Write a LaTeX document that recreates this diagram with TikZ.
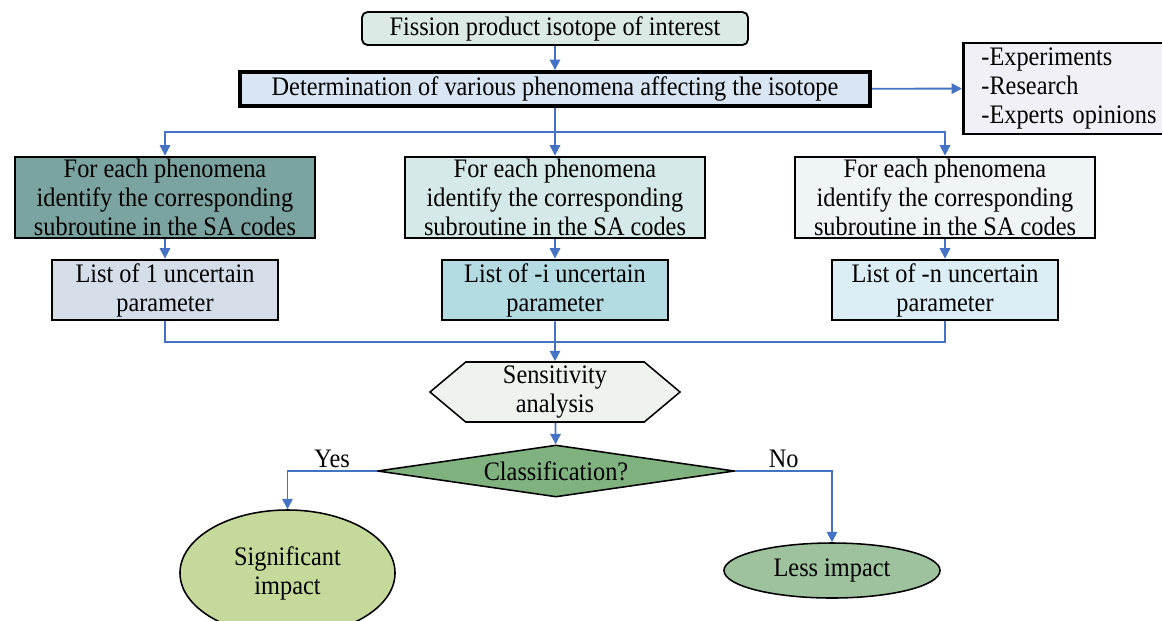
\documentclass[tikz,border=0pt]{standalone}
\usepackage{fontspec}
\setmainfont[FakeStretch=0.91]{Liberation Serif}
\usetikzlibrary{shapes.geometric,shapes.symbols,arrows.meta}
\definecolor{flowblue}{HTML}{4472C4}
\definecolor{topfill}{HTML}{DCEAE6}
\definecolor{detfill}{HTML}{DAE5F3}
\definecolor{expfill}{HTML}{F1F0F7}
\definecolor{phafill}{HTML}{7BA39F}
\definecolor{phbfill}{HTML}{D5EAE8}
\definecolor{phcfill}{HTML}{EFF5F6}
\definecolor{lsafill}{HTML}{D5DDE9}
\definecolor{lsbfill}{HTML}{B4DAE2}
\definecolor{lscfill}{HTML}{DCEEF5}
\definecolor{hexfill}{HTML}{EEF3EE}
\definecolor{diafill}{HTML}{7FB27E}
\definecolor{sigfill}{HTML}{C5D99B}
\definecolor{lesfill}{HTML}{9EC29E}
\begin{document}
\begin{tikzpicture}[x=0.025cm, y=-0.025cm, font=\fontsize{19}{20.6}\selectfont,
    main/.style = {draw, line width=2pt, inner ysep=0pt, align=center},
    phen/.style = {main, minimum width=7.5cm, minimum height=2.025cm},
    lst/.style = {main, minimum width=5.65cm, minimum height=1.5cm},
    flow/.style = {draw=flowblue, line width=1.3pt},
    arr/.style = {flow, -{Triangle[length=2.6mm, width=2.6mm]}}]
\useasboundingbox (0,0) rectangle (1162,620);
\node[main, rounded corners=4pt, line width=1.3pt, fill=topfill, minimum width=9.65cm, minimum height=0.825cm] (1) at (555,28.5) {Fission product isotope of interest};
\node[main, line width=2.8pt, fill=detfill, minimum width=15.75cm, minimum height=0.85cm] (2) at (555,89) {Determination of various phenomena affecting the isotope};
\node[main, fill=expfill, anchor=west, align=left, text width=5cm, inner xsep=0.45cm, minimum height=2.275cm] (3) at (962,88.5) {-Experiments\\-Research\\-Experts opinions};
\node[phen, fill=phafill] (4) at (165,197.5) {For each phenomena\\identify the corresponding\\subroutine in the SA codes};
\node[phen, fill=phbfill] (5) at (555,197.5) {For each phenomena\\identify the corresponding\\subroutine in the SA codes};
\node[phen, fill=phcfill] (6) at (945,197.5) {For each phenomena\\identify the corresponding\\subroutine in the SA codes};
\node[lst, fill=lsafill] (7) at (165,290) {List of 1 uncertain\\parameter};
\node[lst, fill=lsbfill] (8) at (555,290) {List of -i uncertain\\parameter};
\node[lst, fill=lscfill] (9) at (945,290) {List of -n uncertain\\parameter};
\node[main, line width=1.1pt, fill=hexfill, signal, signal to=east and west, signal pointer angle=80, minimum width=6.25cm, minimum height=1.5cm] (10) at (555,392) {Sensitivity\\analysis};
\node[main, line width=1.1pt, fill=diafill, diamond, aspect=6.9, inner sep=0pt, minimum width=8.925cm, minimum height=1.3cm] (11) at (556,471) {Classification?};
\node[main, line width=1.1pt, fill=sigfill, ellipse, minimum width=5.375cm, minimum height=3.15cm] (12) at (287.5,573) {Significant\\impact};
\node[main, line width=1.1pt, fill=lesfill, ellipse, minimum width=5.4cm, minimum height=1.375cm] (13) at (832,570.5) {Less impact};
\coordinate (14) at (555,132);
\coordinate (15) at (555,342);
\draw[arr] (1) -- (2);
\draw[arr] (2) -- (3);
\draw[flow] (2) -- (14);
\draw[arr] (14) -| (4);
\draw[arr] (14) -- (5);
\draw[arr] (14) -| (6);
\draw[arr] (4) -- (7);
\draw[arr] (5) -- (8);
\draw[arr] (6) -- (9);
\draw[flow] (7) |- (15);
\draw[flow] (9) |- (15);
\draw[arr] (8) -- (10);
\draw[arr] (10) -- (11);
\draw[arr] (11.west) -| node[pos=0.25, above, inner sep=2pt] {Yes} (12);
\draw[arr] (11.east) -| node[pos=0.25, above, inner sep=2pt] {No} (13);
\end{tikzpicture}
\end{document}
